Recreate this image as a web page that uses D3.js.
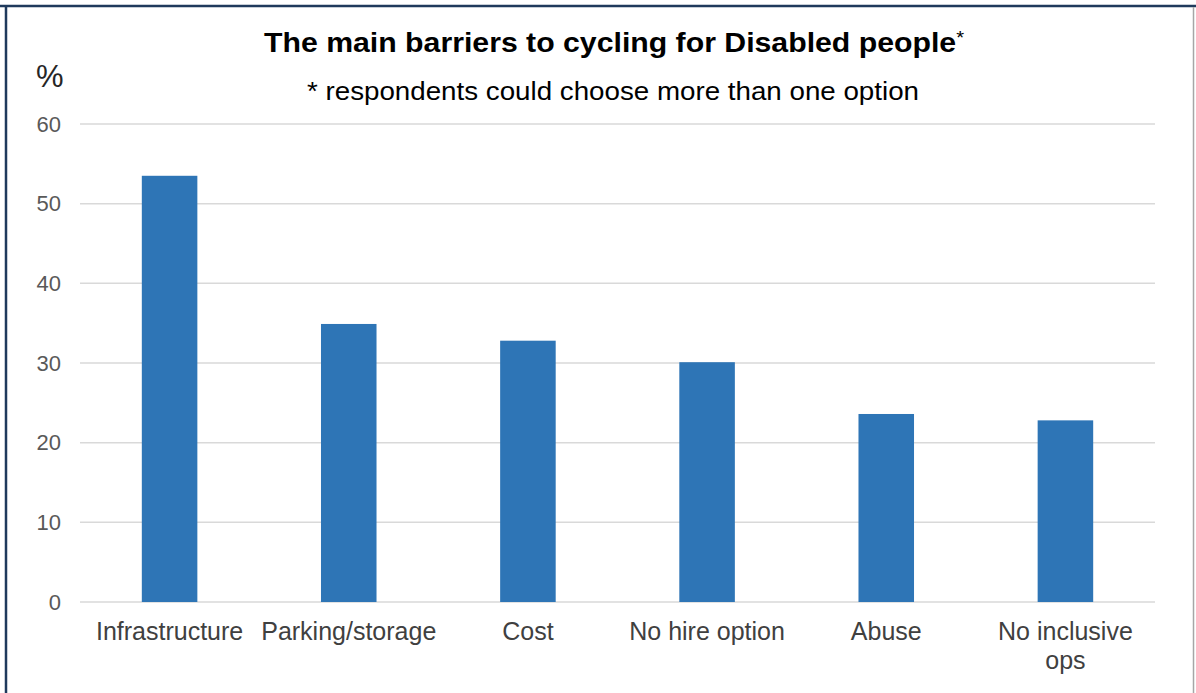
<!DOCTYPE html>
<html>
<head>
<meta charset="utf-8">
<script src="https://cdn.jsdelivr.net/npm/d3@7"></script>
<style>
  body { margin: 0; background: #fff; }
  svg { display: block; font-family: "Liberation Sans", Arial, sans-serif; }
</style>
</head>
<body>
<div id="chart"></div>
<script>
// chart values
const categories = ["Infrastructure", "Parking/storage", "Cost", "No hire option", "Abuse", "No inclusive ops"];
const percentages = [53.5, 34.9, 32.8, 30.1, 23.6, 22.8];
const yTicks = [0, 10, 20, 30, 40, 50, 60];
const titleText = "The main barriers to cycling for Disabled people";
const subtitleText = "* respondents could choose more than one option";

const W = 1196, H = 693;
const margin = { top: 124, right: 41, bottom: 91, left: 80 };
const width = W - margin.left - margin.right;
const height = H - margin.top - margin.bottom;

const svg = d3.select("#chart").append("svg")
    .attr("width", W)
    .attr("height", H);

// frame
svg.append("line").attr("x1", 0).attr("x2", W).attr("y1", 6).attr("y2", 6)
    .attr("stroke", "#1f3a5c").attr("stroke-width", 2.5);
svg.append("line").attr("x1", 6).attr("x2", 6).attr("y1", 5).attr("y2", H)
    .attr("stroke", "#1f3a5c").attr("stroke-width", 2.5);
svg.append("line").attr("x1", 1193.5).attr("x2", 1193.5).attr("y1", 7).attr("y2", H)
    .attr("stroke", "#a6a6a6").attr("stroke-width", 1.5);

const g = svg.append("g").attr("transform", `translate(${margin.left},${margin.top})`);

const x = d3.scaleBand().domain(categories).range([0, width]).paddingInner(0.69).paddingOuter(0.345);
const y = d3.scaleLinear().domain([0, 60]).range([height, 0]);

// gridlines
g.append("g")
    .selectAll("line")
    .data(yTicks)
    .join("line")
    .attr("x1", 0).attr("x2", width)
    .attr("y1", d => y(d)).attr("y2", d => y(d))
    .attr("stroke", "#d9d9d9").attr("stroke-width", 1.5);

// y axis labels
const yAxis = g.append("g")
    .call(d3.axisLeft(y).tickValues(yTicks).tickSize(0).tickPadding(19));
yAxis.select(".domain").remove();
yAxis.selectAll("text")
    .attr("fill", "#595959")
    .style("font-size", "22px")
    .style("font-family", "'Liberation Sans', Arial, sans-serif");

// bars
g.selectAll(".bar")
    .data(categories)
    .join("rect")
    .attr("class", "bar")
    .attr("x", d => x(d))
    .attr("width", x.bandwidth())
    .attr("y", (d, i) => y(percentages[i]))
    .attr("height", (d, i) => height - y(percentages[i]))
    .attr("fill", "#2e75b6");

// x axis labels (last one wrapped)
const xAxis = g.append("g")
    .attr("transform", `translate(0,${height})`)
    .call(d3.axisBottom(x).tickSize(0).tickPadding(0));
xAxis.select(".domain").remove();
xAxis.selectAll("text")
    .attr("fill", "#404040")
    .style("font-size", "25px")
    .style("font-family", "'Liberation Sans', Arial, sans-serif")
    .attr("dy", null)
    .attr("y", 38)
    .each(function (d) {
        const t = d3.select(this);
        if (d === "No inclusive ops") {
            t.text(null);
            t.append("tspan").attr("x", 0).attr("y", 38).text("No inclusive");
            t.append("tspan").attr("x", 0).attr("y", 67).text("ops");
        }
    });

// titles
const title = svg.append("text")
    .attr("x", 614).attr("y", 52)
    .attr("text-anchor", "middle")
    .attr("textLength", 700)
    .attr("lengthAdjust", "spacingAndGlyphs")
    .style("font-size", "27px")
    .style("font-weight", "bold")
    .attr("fill", "#000");
title.append("tspan").text(titleText);
title.append("tspan")
    .attr("dy", -8)
    .style("font-size", "18px")
    .style("font-weight", "normal")
    .text("*");

svg.append("text")
    .attr("x", 613).attr("y", 100)
    .attr("text-anchor", "middle")
    .attr("textLength", 612)
    .attr("lengthAdjust", "spacingAndGlyphs")
    .style("font-size", "25px")
    .attr("fill", "#000")
    .text(subtitleText);

svg.append("text")
    .attr("x", 36).attr("y", 87)
    .style("font-size", "31px")
    .attr("fill", "#262626")
    .text("%");
</script>
</body>
</html>
